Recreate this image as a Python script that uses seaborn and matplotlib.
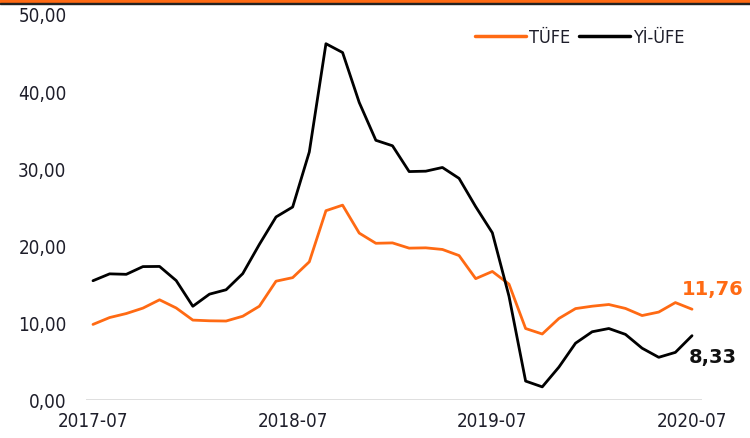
import matplotlib
matplotlib.use('Agg')
import matplotlib.pyplot as plt
import seaborn as sns
import pandas as pd
from matplotlib.patches import Rectangle

# monthly annual inflation, 2017-07 .. 2020-07
months = pd.period_range('2017-07', '2020-07', freq='M').strftime('%Y-%m').tolist()

tufe = [9.79, 10.68, 11.20, 11.90, 12.98, 11.92, 10.35, 10.26, 10.23, 10.85,
        12.15, 15.39, 15.85, 17.90, 24.52, 25.24, 21.62, 20.30, 20.35, 19.67,
        19.71, 19.50, 18.71, 15.72, 16.65, 15.01, 9.26, 8.55, 10.56, 11.84,
        12.15, 12.37, 11.86, 10.94, 11.39, 12.62, 11.76]

yiufe = [15.45, 16.34, 16.28, 17.28, 17.30, 15.47, 12.14, 13.71, 14.28, 16.37,
         20.16, 23.71, 25.00, 32.13, 46.15, 45.01, 38.54, 33.64, 32.93, 29.59,
         29.64, 30.12, 28.71, 25.04, 21.66, 13.45, 2.45, 1.70, 4.26, 7.36,
         8.84, 9.26, 8.50, 6.71, 5.53, 6.17, 8.33]

series_names = ['TÜFE', 'Yİ-ÜFE']
colors = {'TÜFE': '#FF6A13', 'Yİ-ÜFE': '#000000'}
y_ticks = [0, 10, 20, 30, 40, 50]
x_tick_idx = [0, 12, 24, 36]

df = pd.DataFrame({'idx': range(len(months)), 'TÜFE': tufe, 'Yİ-ÜFE': yiufe})
long_df = df.melt(id_vars='idx', var_name='seri', value_name='deger')

sns.set_style('white')
plt.rcParams['font.family'] = ['DejaVu Sans']
plt.rcParams['font.stretch'] = 'condensed'
text_color = '#1e1e2a'

fig = plt.figure(figsize=(7.5, 4.39), dpi=100)
ax = fig.add_axes([86 / 750, 38 / 439, (702 - 86) / 750, (424 - 38) / 439])

sns.lineplot(data=long_df, x='idx', y='deger', hue='seri', hue_order=series_names,
             palette=colors, linewidth=2.0, ax=ax, legend=False)

ax.axhline(0, color='#d9d9d9', linewidth=1.2, zorder=0)
ax.set_xlim(-0.42, 36.6)
ax.set_ylim(0, 50)
ax.set_yticks(y_ticks)
ax.set_yticklabels([f'{v:.2f}'.replace('.', ',') for v in y_ticks],
                   fontsize=13.5, color=text_color)
ax.set_xticks(x_tick_idx)
ax.set_xticklabels([months[i] for i in x_tick_idx], fontsize=13.5, color=text_color)
ax.tick_params(axis='y', length=0, pad=14)
ax.tick_params(axis='x', length=0, pad=8)
ax.set_xlabel('')
ax.set_ylabel('')
for s in ax.spines.values():
    s.set_visible(False)
ax.patch.set_alpha(0)

# end-point labels
ax.text(35.4, tufe[-1] + 1.4, f'{tufe[-1]:.2f}'.replace('.', ','),
        color=colors['TÜFE'], fontsize=14, fontweight='bold', fontstretch='normal',
        ha='left', va='bottom')
ax.text(35.8, yiufe[-1] - 1.4, f'{yiufe[-1]:.2f}'.replace('.', ','),
        color='#111111', fontsize=14, fontweight='bold', fontstretch='normal',
        ha='left', va='top')

# legend
handles = [plt.Line2D([0], [0], color=colors[n], linewidth=2.5) for n in series_names]
leg = fig.legend(handles, series_names, loc='center', bbox_to_anchor=(580 / 750, 1 - 38 / 439),
                 ncol=2, frameon=False, fontsize=13, handlelength=2.8,
                 handletextpad=0.2, columnspacing=0.5)
for t in leg.get_texts():
    t.set_color(text_color)

# top banner strip
fig.patches.append(Rectangle((0, 1 - 3.5 / 439), 1, 3.5 / 439, transform=fig.transFigure,
                             color='#FF6A13', zorder=5))
fig.patches.append(Rectangle((0, 1 - 4.5 / 439), 1, 1.0 / 439, transform=fig.transFigure,
                             color='#222222', zorder=5))

fig.savefig('out.png', dpi=100)
